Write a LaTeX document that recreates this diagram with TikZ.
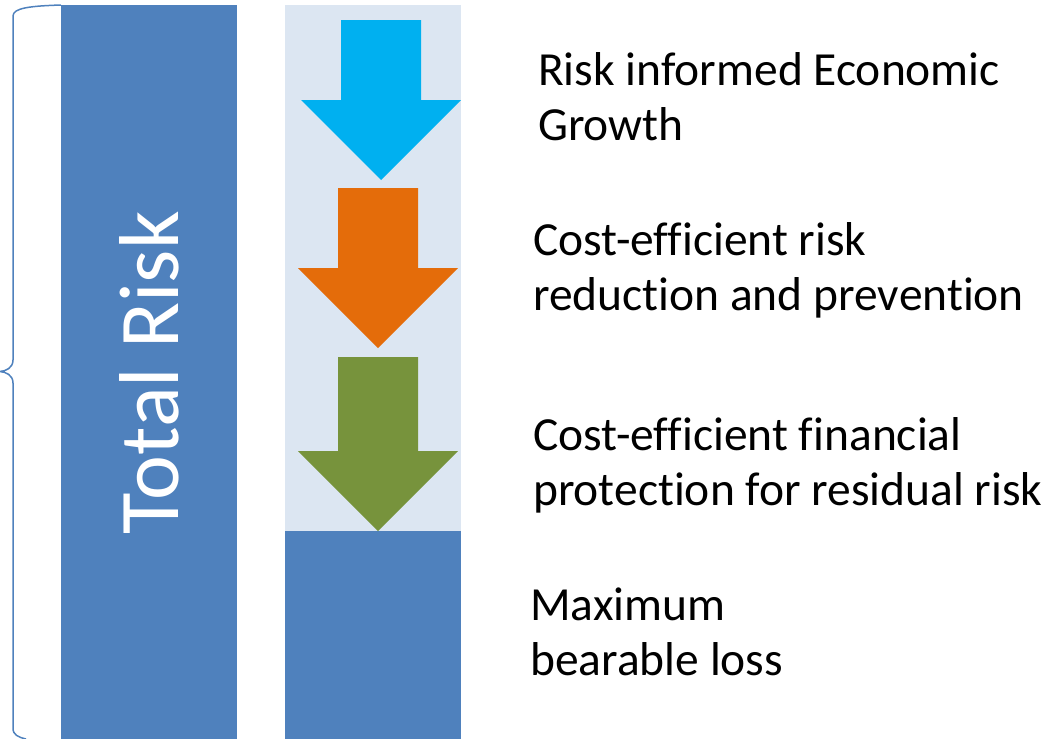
\documentclass[tikz,border=0pt]{standalone}
\usepackage{fontspec}
\setmainfont[Ligatures={NoCommon,NoContextual,NoRare,NoDiscretionary},Contextuals=NoAlternate]{Carlito}
\definecolor{barblue}{HTML}{4F81BD}
\definecolor{lightblue}{HTML}{DCE6F2}
\definecolor{cyanarrow}{HTML}{00B0F0}
\definecolor{orangearrow}{HTML}{E46C0A}
\definecolor{greenarrow}{HTML}{77933C}
\begin{document}
\begin{tikzpicture}[x=1pt,y=-1pt,
  bar/.style={fill=barblue,draw=none},
  lbl/.style={anchor=base west,align=left,inner sep=0pt,font=\fontsize{47.5}{55}\selectfont},
  downarrow/.style={draw=none}]
\useasboundingbox (0,0) rectangle (1055,739);
% left bar
\path[bar] (61,5) rectangle (237,739);
\node[rotate=90,anchor=base,inner sep=0pt,text=white,font=\fontsize{85}{100}\selectfont] (total) at (178,372.5) {Total Risk};
% right column
\path[fill=lightblue] (285,5) rectangle (461,531);
\path[bar] (285,531) rectangle (461,739);
% arrows
\path[downarrow,fill=cyanarrow] (341,20) -- (421,20) -- (421,100) -- (461,100) -- (381,180) -- (301,100) -- (341,100) -- cycle;
\path[downarrow,fill=orangearrow] (338,188) -- (418,188) -- (418,268) -- (458,268) -- (378,348) -- (298,268) -- (338,268) -- cycle;
\path[downarrow,fill=greenarrow] (338,357) -- (418,357) -- (418,451) -- (458,451) -- (378,531) -- (298,451) -- (338,451) -- cycle;
% brace
\draw[barblue,line width=1.5pt] (61,5) .. controls (30,6) and (13,8) .. (13,16) -- (13,360) .. controls (13,368) and (6,371) .. (0,371.5) .. controls (6,372) and (13,375) .. (13,383) -- (13,728) .. controls (13,735) and (18,737) .. (26,739);
% labels (base = baseline of last line)
\node[lbl] (t1) at (538,140) {Risk informed Economic\\Growth};
\node[lbl] (t2) at (533,310) {Cost-efficient risk\\reduction and preven\-tion};
\node[lbl] (t3) at (533,505) {Cost-efficient financial\\protec\-tion for residual risk};
\node[lbl] (t4) at (530,675) {Maximum\\bearable loss};
\end{tikzpicture}
\end{document}
